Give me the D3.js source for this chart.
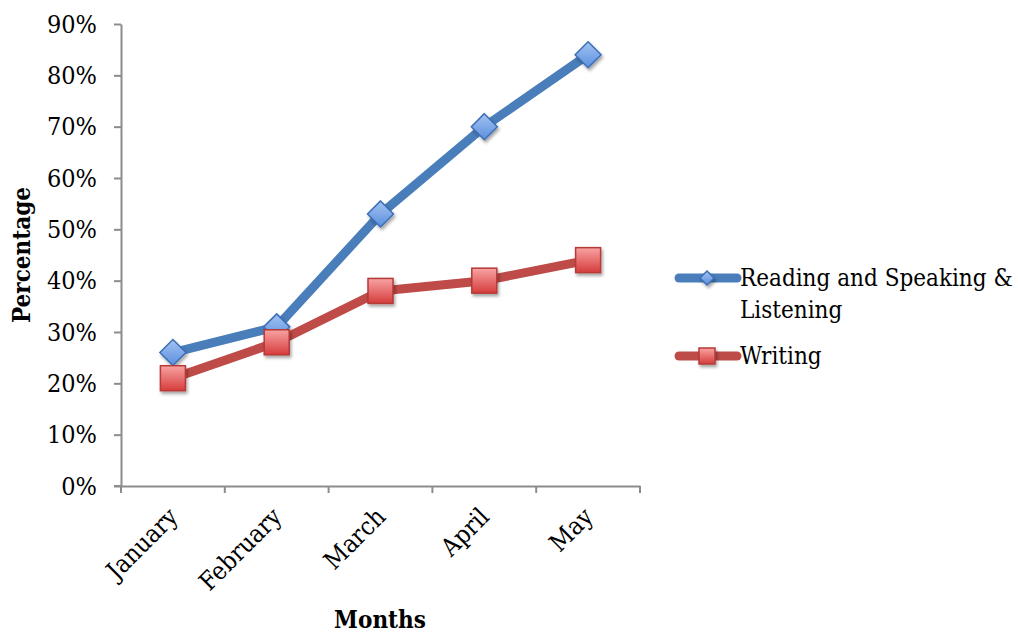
<!DOCTYPE html>
<html>
<head>
<meta charset="utf-8">
<script src="https://cdn.jsdelivr.net/npm/d3@7"></script>
<style>
  html, body { margin: 0; padding: 0; background: #fff; }
  svg { display: block; font-family: "DejaVu Serif Condensed", "DejaVu Serif", serif; font-stretch: condensed; }
</style>
</head>
<body>
<svg id="chart" width="1018" height="634"></svg>
<script>
// Monthly progress data
const months = ["January", "February", "March", "April", "May"];
const readingSpeaking = [0.26, 0.31, 0.53, 0.70, 0.84];
const writing = [0.21, 0.28, 0.38, 0.40, 0.44];
const yTicks = [0, 0.1, 0.2, 0.3, 0.4, 0.5, 0.6, 0.7, 0.8, 0.9];
const seriesNames = ["Reading and Speaking & Listening", "Writing"];

const FONT = "DejaVu Serif Condensed, DejaVu Serif, serif";
const svg = d3.select("#chart");
const margin = { left: 121, right: 378, top: 24, bottom: 148 };
const W = 1018, H = 634;

const x = d3.scaleBand().domain(months).range([margin.left, W - margin.right]);
const y = d3.scaleLinear().domain([0, 0.9]).range([H - margin.bottom, margin.top]);

const defs = svg.append("defs");
const blueGrad = defs.append("linearGradient").attr("id", "blueGrad")
  .attr("x1", 0).attr("y1", 0).attr("x2", 0).attr("y2", 1);
blueGrad.append("stop").attr("offset", "0%").attr("stop-color", "#a3c3f2");
blueGrad.append("stop").attr("offset", "100%").attr("stop-color", "#5b8fde");
const redGrad = defs.append("linearGradient").attr("id", "redGrad")
  .attr("x1", 0).attr("y1", 0).attr("x2", 0).attr("y2", 1);
redGrad.append("stop").attr("offset", "0%").attr("stop-color", "#f9a3a3");
redGrad.append("stop").attr("offset", "100%").attr("stop-color", "#d63c3c");
const shadow = defs.append("filter").attr("id", "shadow")
  .attr("x", "-50%").attr("y", "-50%").attr("width", "200%").attr("height", "200%");
shadow.append("feDropShadow").attr("dx", 1.5).attr("dy", 2.5).attr("stdDeviation", 1.6)
  .attr("flood-color", "#000").attr("flood-opacity", 0.35);

const axisColor = "#8c8c8c";

// Y axis
const yAxis = svg.append("g").attr("transform", `translate(${margin.left},0)`)
  .call(d3.axisLeft(y).tickValues(yTicks).tickFormat(d3.format(".0%")).tickSize(7).tickSizeOuter(0));
yAxis.select(".domain").attr("stroke", axisColor).attr("stroke-width", 2);
yAxis.selectAll(".tick line").attr("stroke", axisColor).attr("stroke-width", 2);
yAxis.selectAll(".tick text").attr("x", -24).attr("font-size", 25)
  .attr("font-family", FONT).attr("fill", "#000");

// X axis
const xAxis = svg.append("g").attr("transform", `translate(0,${H - margin.bottom})`)
  .call(d3.axisBottom(x).tickSize(0).tickSizeOuter(0));
xAxis.select(".domain").attr("stroke", axisColor).attr("stroke-width", 2);
xAxis.selectAll(".tick text")
  .attr("font-size", 25).attr("font-family", FONT).attr("fill", "#000")
  .attr("text-anchor", "end")
  .attr("transform", `translate(-6,20) rotate(-45)`)
  .attr("dy", "0.7em").attr("y", 0).attr("x", 0);
// Category boundary ticks
const bounds = months.map(m => x(m)).concat([x(months[months.length - 1]) + x.bandwidth()]);
xAxis.selectAll(".bound").data(bounds).enter().append("line")
  .attr("x1", d => d).attr("x2", d => d).attr("y1", 0).attr("y2", 7)
  .attr("stroke", axisColor).attr("stroke-width", 2);
// baseline stub left of the y axis
svg.append("line").attr("x1", margin.left - 7).attr("x2", margin.left)
  .attr("y1", y(0)).attr("y2", y(0)).attr("stroke", axisColor).attr("stroke-width", 2);

// Axis titles
svg.append("text").attr("x", 380).attr("y", 628).attr("text-anchor", "middle")
  .attr("font-family", FONT).attr("font-weight", "bold").attr("font-size", 24).attr("fill", "#000").text("Months");
svg.append("text").attr("transform", `translate(30,255) rotate(-90)`).attr("text-anchor", "middle")
  .attr("font-family", FONT).attr("font-weight", "bold").attr("font-size", 24).attr("fill", "#000").text("Percentage");

const cx = m => x(m) + x.bandwidth() / 2;
const line = d3.line().x((d, i) => cx(months[i])).y(d => y(d));

function diamond(g, px, py, s) {
  g.append("path")
    .attr("d", `M${px},${py - s}L${px + s},${py}L${px},${py + s}L${px - s},${py}Z`)
    .attr("fill", "url(#blueGrad)").attr("stroke", "#3d6fb6").attr("stroke-width", 1.5)
    .attr("filter", "url(#shadow)");
}
function square(g, px, py, s) {
  g.append("rect").attr("x", px - s).attr("y", py - s).attr("width", 2 * s).attr("height", 2 * s)
    .attr("fill", "url(#redGrad)").attr("stroke", "#b53a37").attr("stroke-width", 1.5)
    .attr("filter", "url(#shadow)");
}

// Series lines
svg.append("path").datum(readingSpeaking).attr("d", line)
  .attr("fill", "none").attr("stroke", "#4a7ebb").attr("stroke-width", 9).attr("stroke-linejoin", "round");
const gBlue = svg.append("g");
readingSpeaking.forEach((v, i) => diamond(gBlue, cx(months[i]), y(v), 13));

svg.append("path").datum(writing).attr("d", line)
  .attr("fill", "none").attr("stroke", "#be4b48").attr("stroke-width", 9).attr("stroke-linejoin", "round");
const gRed = svg.append("g");
writing.forEach((v, i) => square(gRed, cx(months[i]), y(v), 12.5));

// Legend
const legend = svg.append("g").attr("font-family", FONT);
const lx0 = 679, lx1 = 737, lmid = 707;
legend.append("line").attr("x1", lx0).attr("x2", lx1).attr("y1", 278).attr("y2", 278)
  .attr("stroke", "#4a7ebb").attr("stroke-width", 9).attr("stroke-linecap", "round");
diamond(legend, lmid, 278, 7);
legend.append("text").attr("x", 740).attr("y", 286).attr("font-size", 24).attr("fill", "#000")
  .text("Reading and Speaking &");
legend.append("text").attr("x", 740).attr("y", 318).attr("font-size", 24).attr("fill", "#000")
  .text("Listening");
legend.append("line").attr("x1", lx0).attr("x2", lx1).attr("y1", 356).attr("y2", 356)
  .attr("stroke", "#be4b48").attr("stroke-width", 9).attr("stroke-linecap", "round");
square(legend, lmid, 356, 8);
legend.append("text").attr("x", 740).attr("y", 364).attr("font-size", 24).attr("fill", "#000")
  .text(seriesNames[1]);
</script>
</body>
</html>
